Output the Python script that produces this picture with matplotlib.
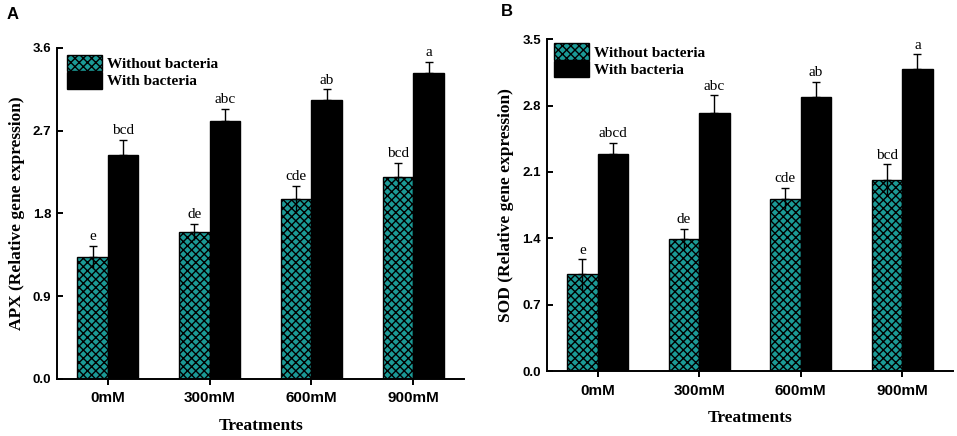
import numpy as np
import matplotlib
matplotlib.use("Agg")
import matplotlib.pyplot as plt

treatments = ["0mM", "300mM", "600mM", "900mM"]

# panel A - APX
apx_without = [1.33, 1.60, 1.96, 2.20]
apx_without_err = [0.12, 0.09, 0.14, 0.15]
apx_with = [2.44, 2.80, 3.03, 3.33]
apx_with_err = [0.16, 0.14, 0.12, 0.12]
apx_lab_without = ["e", "de", "cde", "bcd"]
apx_lab_with = ["bcd", "abc", "ab", "a"]

# panel B - SOD
sod_without = [1.02, 1.39, 1.82, 2.02]
sod_without_err = [0.16, 0.11, 0.11, 0.16]
sod_with = [2.29, 2.72, 2.89, 3.19]
sod_with_err = [0.12, 0.19, 0.16, 0.15]
sod_lab_without = ["e", "de", "cde", "bcd"]
sod_lab_with = ["abcd", "abc", "ab", "a"]

teal = "#1b9a96"
serif = "Liberation Serif"
sans = "Liberation Sans"
plt.rcParams["hatch.linewidth"] = 1.0


def draw_panel(ax, without, without_err, with_, with_err, lab_wo, lab_w,
               ymax, yticks, ylabel, leg_anchor):
    x = np.arange(len(treatments))
    w = 0.30
    b1 = ax.bar(x - w / 2, without, w, color=teal, edgecolor="black",
                hatch="xxxx", linewidth=1.0, label="Without bacteria", zorder=2)
    b2 = ax.bar(x + w / 2, with_, w, color="black", edgecolor="black",
                linewidth=1.0, label="With bacteria", zorder=2)
    # upper error with cap, lower without cap
    for xs, vals, errs in [(x - w / 2, without, without_err),
                           (x + w / 2, with_, with_err)]:
        ax.errorbar(xs, vals, yerr=[np.zeros(len(errs)), errs], fmt="none",
                    ecolor="black", elinewidth=1.0, capsize=3, capthick=1.0,
                    zorder=3)
        ax.errorbar(xs, vals, yerr=[errs, np.zeros(len(errs))], fmt="none",
                    ecolor="black", elinewidth=1.0, capsize=0, zorder=3)
    for i in range(len(x)):
        ax.text(x[i] - w / 2, without[i] + without_err[i] + ymax * 0.008,
                lab_wo[i], ha="center", va="bottom", family=serif,
                fontsize=11)
        ax.text(x[i] + w / 2, with_[i] + with_err[i] + ymax * 0.008,
                lab_w[i], ha="center", va="bottom", family=serif,
                fontsize=11)

    ax.set_xlim(-0.5, 3.5)
    ax.set_ylim(0, ymax)
    ax.set_yticks(yticks)
    ax.set_yticklabels(["%.1f" % t for t in yticks], family=sans,
                       fontweight="bold", fontsize=9.5)
    ax.set_xticks(x)
    ax.set_xticklabels(treatments, family=sans, fontweight="bold",
                       fontsize=11)
    ax.tick_params(axis="y", direction="in", length=4, width=1.4, pad=4)
    ax.tick_params(axis="x", direction="out", length=4, width=1.4, pad=5)
    ax.spines["top"].set_visible(False)
    ax.spines["right"].set_visible(False)
    ax.spines["left"].set_linewidth(1.4)
    ax.spines["bottom"].set_linewidth(1.4)
    ax.set_xlabel("Treatments", family=serif, fontweight="bold",
                  fontsize=12.5, labelpad=9)
    ax.set_ylabel(ylabel, family=serif, fontweight="bold", fontsize=12.5,
                  labelpad=6)
    leg = ax.legend(handles=[b1, b2], loc="upper left",
                    bbox_to_anchor=leg_anchor, frameon=False, borderpad=0,
                    borderaxespad=0, labelspacing=0.05, handlelength=2.3,
                    handleheight=1.3, handletextpad=0.3,
                    prop={"family": serif, "weight": "bold", "size": 11})
    return leg


fig = plt.figure(figsize=(9.57, 4.36), dpi=100)
axA = fig.add_axes([0.0596, 0.131, 0.4254, 0.759])
axB = fig.add_axes([0.5713, 0.149, 0.4245, 0.761])

draw_panel(axA, apx_without, apx_without_err, apx_with, apx_with_err,
           apx_lab_without, apx_lab_with, 3.6, [0.0, 0.9, 1.8, 2.7, 3.6],
           "APX (Relative gene expression)", (0.024, 0.98))
draw_panel(axB, sod_without, sod_without_err, sod_with, sod_with_err,
           sod_lab_without, sod_lab_with, 3.5, [0.0, 0.7, 1.4, 2.1, 2.8, 3.5],
           "SOD (Relative gene expression)", (0.018, 0.988))

fig.text(0.007, 0.985, "A", family=sans, fontweight="bold", fontsize=12,
         va="top", ha="left")
fig.text(0.523, 0.99, "B", family=sans, fontweight="bold", fontsize=12,
         va="top", ha="left")

fig.savefig("out.png", dpi=100)
